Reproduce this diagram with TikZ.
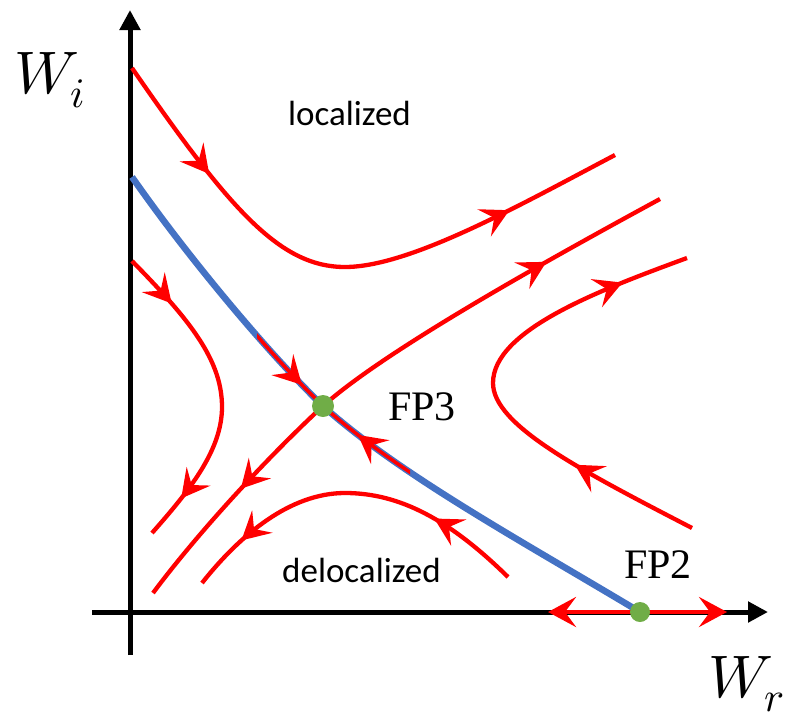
\documentclass[tikz,border=0pt]{standalone}
\usepackage{unicode-math}
\newfontfamily\calib{Carlito}
\newfontfamily\serifb{Liberation Serif}
\usetikzlibrary{arrows.meta,decorations.markings}
\definecolor{fred}{HTML}{FF0000}
\definecolor{fblue}{HTML}{4472C4}
\definecolor{fgreen}{HTML}{70AD47}
\begin{document}
\begin{tikzpicture}[x=1pt,y=-1pt,
  ftip/.tip={Stealth[length=28pt,width=30pt,inset=11pt]},
  flow/.style={fred,line width=4.3pt},
  fwd/.style={postaction={decorate,decoration={markings,mark=at position #1 with {\arrow{ftip}}}}},
  bwd/.style={postaction={decorate,decoration={markings,mark=at position #1 with {\arrowreversed{ftip}}}}},
  axis/.style={black,line width=5pt,-{Triangle[length=20pt,width=20pt]}},
  lbl/.style={anchor=base west,inner sep=0pt},
  txt/.style={lbl,font=\calib\fontsize{35}{40}\selectfont},
  fplbl/.style={lbl,font=\serifb\fontsize{42}{48}\selectfont},
  wlbl/.style={lbl,font=\fontsize{60}{66}\selectfont},
  fp/.style={circle,fill=fgreen,minimum size=22pt,inner sep=0pt}]
\useasboundingbox (0,0) rectangle (789,720);
\coordinate (FP3) at (323,406);
\coordinate (FP2) at (640,612);
% axes
\coordinate (yb) at (130,655);
\coordinate (yt) at (130,10);
\coordinate (xl) at (92,612);
\coordinate (xr) at (768,612);
\draw[axis] (yb) -- (yt);
\draw[axis] (xl) -- (xr);
% separatrix
\draw[fblue,line width=6.5pt] (132,177) .. controls (190,260) and (270,355) .. (FP3)
  .. controls (400,475) and (520,540) .. (FP2);
\begin{scope}
  \clip (257,0) rectangle (410,720);
  \draw[flow,line width=3.5pt,fwd=0.9] (132,177) .. controls (190,260) and (270,355) .. (FP3);
  \draw[flow,line width=3.5pt,bwd=0.12] (FP3) .. controls (400,475) and (520,540) .. (FP2);
\end{scope}
% flows
\draw[flow,fwd=0.22,fwd=0.8] (132,68) .. controls (230,210) and (280,267) .. (345,267)
  .. controls (410,267) and (520,205) .. (615,155);
\draw[flow,bwd=0.21,fwd=0.8] (153,593) .. controls (200,530) and (270,455) .. (FP3)
  .. controls (380,355) and (520,275) .. (660,199);
\draw[flow,fwd=0.18,fwd=0.86] (132,261) .. controls (190,320) and (222,360) .. (222,407)
  .. controls (222,450) and (190,490) .. (152,533);
\draw[flow,fwd=0.26,fwd=0.84] (508,577) .. controls (450,520) and (400,493) .. (345,493)
  .. controls (290,493) and (240,535) .. (202,583);
\draw[flow,fwd=0.27,fwd=0.86] (692,528) .. controls (580,470) and (493,425) .. (493,383)
  .. controls (493,330) and (600,290) .. (687,258);
\coordinate (ra) at (548,612);
\coordinate (rb) at (727,612);
\draw[flow,ftip-ftip] (ra) -- (rb);
% fixed points
\node[fp] (fp3) at (FP3) {};
\node[fp,minimum size=20pt] (fp2) at (FP2) {};
% labels
\node[txt] (loc) at (288,125) {localized};
\node[txt] (deloc) at (282,582) {delocalized};
\node[fplbl] (l3) at (388,420) {FP3};
\node[fplbl] (l2) at (624,578) {FP2};
\node[wlbl] (wi) at (14,93) {$W_i$};
\node[wlbl] (wr) at (708,697) {$W_r$};
\end{tikzpicture}
\end{document}
